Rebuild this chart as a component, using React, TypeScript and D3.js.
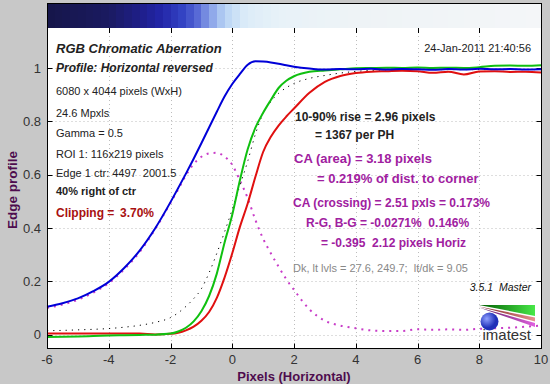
import { useEffect, useRef } from 'react'
import * as d3 from 'd3'

const FONT = '"Liberation Sans", Arial, Helvetica, sans-serif'

// sample positions (pixels) shared by all profiles
const xs = [-6, -5.5, -5, -4.5, -4, -3.5, -3, -2.5, -2, -1.75, -1.5, -1.25, -1, -0.75, -0.5, -0.25, 0, 0.25, 0.5, 0.75, 1, 1.25, 1.5, 1.75, 2, 2.5, 3, 3.5, 4, 4.5, 5, 5.5, 6, 6.5, 7, 7.5, 8, 8.5, 9, 9.5, 10]

const blue = [0.105, 0.118, 0.136, 0.163, 0.198, 0.25, 0.315, 0.398, 0.497, 0.55, 0.604, 0.66, 0.718, 0.777, 0.836, 0.893, 0.94, 0.978, 1.012, 1.025, 1.024, 1.021, 1.016, 1.01, 1.005, 0.998, 0.994, 0.996, 0.995, 0.997, 0.994, 0.996, 0.995, 0.993, 0.996, 0.994, 0.997, 0.995, 0.996, 0.994, 0.995]
const green = [-0.009, -0.008, -0.007, -0.005, -0.003, -0.002, -0.001, 0, 0.004, 0.012, 0.026, 0.05, 0.088, 0.145, 0.229, 0.345, 0.45, 0.58, 0.695, 0.776, 0.832, 0.88, 0.925, 0.952, 0.969, 0.986, 0.991, 0.995, 0.999, 1.0, 1.001, 1.0, 1.002, 1.0, 1.001, 1.0, 1.003, 1.008, 1.009, 1.008, 1.01]
const red = [0.004, 0.004, 0.004, 0.004, 0.004, 0.004, 0.004, 0.001, 0.003, 0.007, 0.016, 0.03, 0.052, 0.085, 0.138, 0.214, 0.305, 0.405, 0.492, 0.592, 0.685, 0.742, 0.784, 0.818, 0.848, 0.907, 0.948, 0.97, 0.981, 0.986, 0.988, 0.99, 0.988, 0.982, 0.986, 0.976, 0.987, 0.988, 0.985, 0.986, 0.983]
const ideal = [0.015, 0.016, 0.018, 0.02, 0.023, 0.028, 0.035, 0.046, 0.064, 0.082, 0.106, 0.135, 0.172, 0.232, 0.305, 0.385, 0.47, 0.56, 0.65, 0.752, 0.83, 0.874, 0.905, 0.926, 0.942, 0.961, 0.972, 0.981, 0.987, 0.991, 0.993, 0.994, 0.994, 0.994, 0.994, 0.994, 0.994, 0.994, 0.994, 0.994, 0.994]
const spread = [0.1, 0.113, 0.131, 0.158, 0.193, 0.245, 0.31, 0.395, 0.494, 0.545, 0.598, 0.64, 0.667, 0.68, 0.682, 0.668, 0.637, 0.578, 0.512, 0.43, 0.36, 0.305, 0.255, 0.208, 0.168, 0.095, 0.052, 0.034, 0.024, 0.016, 0.014, 0.014, 0.02, 0.018, 0.02, 0.018, 0.022, 0.024, 0.026, 0.03, 0.034]

const xTicks = [-6, -4, -2, 0, 2, 4, 6, 8, 10]
const yTicks = [0, 0.2, 0.4, 0.6, 0.8, 1]
const yTickLabels = ['0', '0.2', '0.4', '0.6', '0.8', '1']

// edge image strip above the plot
const barStops = [-6, -4, -3, -2.3, -1.6, -1.16, -0.7, -0.25, 0.43, 1.57, 4, 10]
const barColors = ['#16164a', '#1a1a60', '#1e1e88', '#2226a8', '#3444c4', '#5466d4', '#88a0e8', '#b8d4f4', '#dcecf8', '#e8f2f8', '#eef3f6', '#f4f6f8']

const leftInfo = ['6080 x 4044 pixels (WxH)', '24.6 Mpxls', 'Gamma = 0.5', 'ROI 1: 116x219 pixels', 'Edge 1 ctr: 4497  2001.5']

export default function App() {
  const ref = useRef<SVGSVGElement>(null)

  useEffect(() => {
    if (!ref.current) return
    const svg = d3.select(ref.current)
    svg.selectAll('*').remove()

    const x = d3.scaleLinear().domain([-6, 10]).range([47, 541])
    const y = d3.scaleLinear().domain([-0.05, 1.15]).range([348, 28])
    const L = 47.5, R = 541.5, T = 3.5, B = 348.5, PT = 28

    svg.append('rect').attr('width', 550).attr('height', 384).attr('fill', '#c8c8c8')
    svg.append('rect').attr('x', L).attr('y', T).attr('width', R - L).attr('height', B - T).attr('fill', '#fff')

    // strip
    const barColor = d3.scaleLinear<string>().domain(barStops).range(barColors).interpolate(d3.interpolateRgb)
    const step = 0.25
    d3.range(-6, 10, step).forEach((b) => {
      svg.append('rect')
        .attr('x', x(b)).attr('y', T)
        .attr('width', x(b + step) - x(b) + 0.6).attr('height', PT - T)
        .attr('fill', barColor(b + step / 2))
        .attr('shape-rendering', 'crispEdges')
    })

    // grid
    const grid = svg.append('g').attr('stroke', '#bdbdbd').attr('stroke-width', 1).attr('stroke-dasharray', '1,3')
    xTicks.slice(1, -1).forEach((t) => {
      const px = Math.round(x(t)) + 0.5
      grid.append('line').attr('x1', px).attr('x2', px).attr('y1', PT).attr('y2', B)
    })
    yTicks.forEach((t) => {
      const py = Math.round(y(t)) + 0.5
      grid.append('line').attr('x1', L).attr('x2', R).attr('y1', py).attr('y2', py)
    })

    // ticks
    const ticks = svg.append('g').attr('stroke', '#000').attr('stroke-width', 1)
    xTicks.forEach((t) => {
      const px = Math.round(x(t)) + 0.5
      ticks.append('line').attr('x1', px).attr('x2', px).attr('y1', PT).attr('y2', PT + 5)
      ticks.append('line').attr('x1', px).attr('x2', px).attr('y1', B).attr('y2', B - 5)
    })
    yTicks.forEach((t) => {
      const py = Math.round(y(t)) + 0.5
      ticks.append('line').attr('x1', L).attr('x2', L + 5).attr('y1', py).attr('y2', py)
      ticks.append('line').attr('x1', R).attr('x2', R - 5).attr('y1', py).attr('y2', py)
    })

    const text = (px: number, py: number, s: string, o: any = {}) =>
      svg.append('text')
        .attr('x', px).attr('y', py)
        .attr('font-family', FONT)
        .attr('font-size', o.size || 11)
        .attr('font-weight', o.weight || 'normal')
        .attr('font-style', o.style || 'normal')
        .attr('fill', o.color || '#222')
        .attr('text-anchor', o.anchor || 'start')
        .attr('xml:space', 'preserve')
        .style('white-space', 'pre')
        .text(s)

    xTicks.forEach((t) => text(x(t), 364, String(t), { size: 13, anchor: 'middle', color: '#333' }))
    yTicks.forEach((t, i) => text(41, y(t) + 4.5, yTickLabels[i], { size: 13, anchor: 'end', color: '#333' }))

    // curves
    const line = d3.line<number>().x((_, i) => x(xs[i])).y((d) => y(d)).curve(d3.curveMonotoneX)
    const plot = svg.append('g').attr('fill', 'none')
    plot.append('path').attr('d', line(spread)).attr('stroke', '#c83cc8').attr('stroke-width', 2).attr('stroke-dasharray', '2,5')
    plot.append('path').attr('d', line(ideal)).attr('stroke', '#000').attr('stroke-width', 1).attr('stroke-dasharray', '1.2,5')
    plot.append('path').attr('d', line(red)).attr('stroke', '#e01010').attr('stroke-width', 2)
    plot.append('path').attr('d', line(green)).attr('stroke', '#10c010').attr('stroke-width', 2)
    plot.append('path').attr('d', line(blue)).attr('stroke', '#0000d8').attr('stroke-width', 2)

    // frame
    svg.append('rect').attr('x', L).attr('y', T).attr('width', R - L).attr('height', B - T)
      .attr('fill', 'none').attr('stroke', '#000')

    // annotations
    text(56, 52.5, 'RGB Chromatic Aberration', { size: 13, weight: 'bold', style: 'italic' })
    text(56, 72, 'Profile: Horizontal reversed', { size: 12, weight: 'bold', style: 'italic' })
    text(531, 52, '24-Jan-2011 21:40:56', { anchor: 'end' })
    const infoY = [95, 117, 137, 158, 177]
    leftInfo.forEach((s, i) => text(56, infoY[i], s))
    text(56, 195, '40% right of ctr', { weight: 'bold' })
    text(56, 217, 'Clipping =', { size: 12, weight: 'bold', color: '#a81010' })
    text(120, 217, '3.70%', { size: 12, weight: 'bold', color: '#a81010' })

    text(295, 120.5, '10-90% rise = 2.96 pixels', { size: 12, weight: 'bold' })
    text(315, 138.5, '= 1367 per PH', { size: 12, weight: 'bold' })
    const purple = '#a020a0'
    text(294, 162.5, 'CA (area) = 3.18 pixels', { size: 13, weight: 'bold', color: purple })
    text(317, 182.5, '= 0.219% of dist. to corner', { size: 13, weight: 'bold', color: purple })
    text(293, 206.5, 'CA (crossing) = 2.51 pxls = 0.173%', { size: 12, weight: 'bold', color: purple })
    text(306, 226.5, 'R-G, B-G = -0.0271%  0.146%', { size: 12, weight: 'bold', color: purple })
    text(321, 246.5, '= -0.395  2.12 pixels Horiz', { size: 12, weight: 'bold', color: purple })
    text(293, 272, 'Dk, lt lvls = 27.6, 249.7;  lt/dk = 9.05', { color: '#888' })
    text(531, 291, '3.5.1  Master', { size: 10.5, style: 'italic', anchor: 'end', color: '#111' })

    // axis titles
    const axisColor = '#4e0c4e'
    text(294, 381, 'Pixels (Horizontal)', { size: 13, weight: 'bold', anchor: 'middle', color: axisColor })
    text(0, 0, 'Edge profile', { size: 13.5, weight: 'bold', anchor: 'middle', color: axisColor })
      .attr('transform', 'translate(16.5,190) rotate(-90)')

    // logo
    const defs = svg.append('defs')
    const lg = (id: string, a: string, b: string) => {
      const g = defs.append('linearGradient').attr('id', id)
      g.append('stop').attr('offset', '0%').attr('stop-color', a)
      g.append('stop').attr('offset', '100%').attr('stop-color', b)
    }
    lg('lgG', '#005a00', '#48e848')
    lg('lgR', '#7a2020', '#e89090')
    lg('lgM', '#5a1a5a', '#e060e0')
    const rg = defs.append('radialGradient').attr('id', 'rgB').attr('cx', '35%').attr('cy', '35%')
    rg.append('stop').attr('offset', '0%').attr('stop-color', '#90a0ff')
    rg.append('stop').attr('offset', '100%').attr('stop-color', '#2030b8')
    const logo = svg.append('g')
    logo.append('polygon').attr('points', '479,305 535,305 535,316').attr('fill', 'url(#lgG)')
    logo.append('polygon').attr('points', '479,306.5 535,317.5 535,321.5').attr('fill', 'url(#lgR)')
    logo.append('polygon').attr('points', '479,307.5 535,323 535,327').attr('fill', 'url(#lgM)')
    logo.append('circle').attr('cx', 489.5).attr('cy', 321.5).attr('r', 9).attr('fill', 'url(#rgB)')
    text(482.5, 340, 'imatest', { size: 15, color: '#333' })

    return () => { svg.selectAll('*').remove() }
  }, [])

  return (
    <div style={{ position: 'absolute', left: 0, top: 0 }}>
      <svg ref={ref} width={550} height={384} style={{ display: 'block' }} />
    </div>
  )
}
